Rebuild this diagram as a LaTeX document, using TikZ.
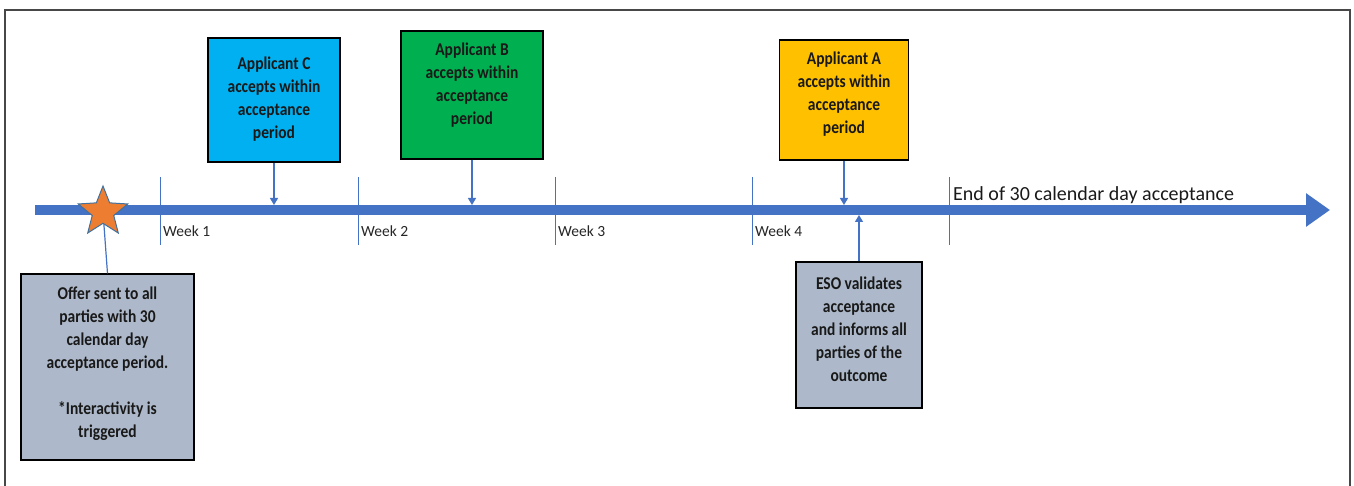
\documentclass[tikz,border=0pt]{standalone}
\usepackage{fontspec}
\setmainfont{Carlito}
\newfontfamily\boxfont[FakeStretch=0.86]{Carlito}
\usepackage{xcolor}
\usepackage{tikz}
\usetikzlibrary{arrows.meta,shapes.geometric}
\definecolor{lineblue}{HTML}{4472C4}
\definecolor{appC}{HTML}{00B0F0}
\definecolor{appB}{HTML}{00B050}
\definecolor{appA}{HTML}{FFC000}
\definecolor{slate}{HTML}{ADB9CA}
\definecolor{starorange}{HTML}{ED7D31}
\definecolor{starrim}{HTML}{41719C}
\definecolor{framegray}{HTML}{474747}

\begin{document}
\begin{tikzpicture}[x=1pt, y=-1pt,
  box/.style={draw=black, line width=1.2pt, align=center, inner sep=2pt, text=black!90,
    font=\boxfont\bfseries\fontsize{18}{23}\selectfont},
  week/.style={anchor=west, inner sep=0pt, text=black!85, font=\fontsize{15.5}{18}\selectfont},
  tick/.style={draw=lineblue, line width=1pt},
  link/.style={draw=lineblue, line width=1.2pt, shorten >=5pt, -{Triangle[length=7pt, width=8pt]}}
]
\useasboundingbox (0,0) rectangle (1354,486);
\draw[framegray, line width=2pt] (4.5,490) -- (4.5,10) -- (1350,10) -- (1350,490);

\foreach \x/\n in {160/1, 358/2, 555/3, 752/4} {
  \draw[tick] (\x,177) -- (\x,245);
  \node[week] (wk\n) at (\x+3,231) {Week \n};
}
\draw[tick] (949,177) -- (949,245);

\coordinate (tlstart) at (35,210);
\coordinate (tlend) at (1330,210);
\draw[lineblue, line width=10pt, -{Triangle[length=24pt, width=32pt]}] (tlstart) -- (tlend);
\node[anchor=base west, inner sep=0pt, text=black!90, font=\fontsize{20}{24}\selectfont] (endlbl) at (953,201)
  {End of 30 calendar day acceptance};

\node[box, fill=appC, minimum width=132pt, minimum height=124pt, text depth=4pt] (applC) at (274,100)
  {Applicant C\\accepts within\\acceptance\\period};
\node[box, fill=appB, minimum width=142pt, minimum height=128pt, text depth=23pt] (applB) at (472,95)
  {Applicant B\\accepts within\\acceptance\\period};
\node[box, fill=appA, minimum width=129pt, minimum height=120pt, text depth=15pt] (applA) at (844,100)
  {Applicant A\\accepts within\\acceptance\\period};
\node[box, fill=slate, minimum width=173pt, minimum height=186pt, text depth=10pt] (offer) at (107.5,367)
  {Offer sent to all\\parties with 30\\calendar day\\acceptance period.\\[23pt]*Interactivity is\\triggered};
\node[box, fill=slate, minimum width=126pt, minimum height=146pt, text depth=12pt] (eso) at (859,335)
  {ESO validates\\acceptance\\and informs all\\parties of the\\outcome};

\draw[link] (applC.south) -- (applC.south |- tlstart);
\draw[link] (applB.south) -- (applB.south |- tlstart);
\draw[link] (applA.south) -- (applA.south |- tlstart);
\draw[link] (eso.north) -- (eso.north |- tlstart);

\coordinate (starpt) at (103,212);
\draw[lineblue, line width=1.2pt] (starpt) -- (offer.north);
\node[star, star points=5, star point ratio=2.3, minimum size=52pt, inner sep=0pt,
  fill=starorange, draw=starrim, line width=1pt] (offerstar) at (starpt) {};
\end{tikzpicture}
\end{document}
